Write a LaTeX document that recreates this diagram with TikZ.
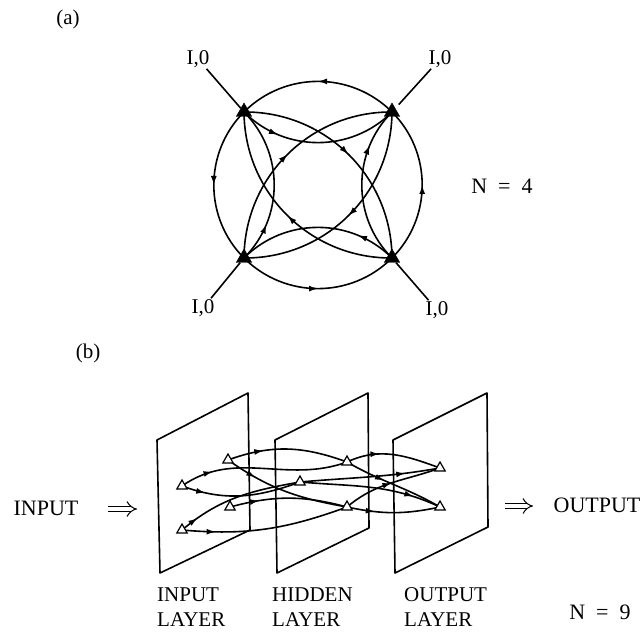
\documentclass[tikz,border=0pt]{standalone}
\usepackage{fontspec}
\setmainfont{Liberation Serif}
\usetikzlibrary{arrows.meta,decorations.markings,shapes.geometric,backgrounds}
\tikzset{
  conn/.style={line width=1.6pt},
  midarrow/.style={postaction={decorate}, decoration={markings, mark=at position #1 with {\arrow{Latex[length=9pt,width=6pt]}}}},
  solidtri/.style={regular polygon, regular polygon sides=3, fill=black, draw=black, minimum size=18pt, inner sep=0pt},
  opentri/.style={regular polygon, regular polygon sides=3, fill=white, draw=black, line width=1.2pt, minimum size=12pt, inner sep=0pt},
  lab/.style={font=\fontsize{21}{25}\selectfont, inner sep=1pt},
  big/.style={font=\fontsize{22}{26}\selectfont, inner sep=1pt},
  layerlab/.style={font=\fontsize{21}{25}\selectfont, align=left, inner sep=0pt, anchor=west},
  panel/.style={line width=1.6pt, line join=round},
  dbl/.style={line width=1pt, double distance=4.5pt, -{Implies}},
}
\begin{document}
\begin{tikzpicture}[x=1pt,y=1pt]
\useasboundingbox (0,0) rectangle (644,635);
% ---------- (a) ----------
\node[lab] (ta) at (68,616) {(a)};
\node[solidtri] (TL) at (244,523) {};
\node[solidtri] (TR) at (392,523) {};
\node[solidtri] (BL) at (244,377) {};
\node[solidtri] (BR) at (392,377) {};
\node[lab] (lTL) at (198,576) {I,0};
\node[lab] (lTR) at (440,576) {I,0};
\node[lab] (lBL) at (203,327) {I,0};
\node[lab] (lBR) at (437,325) {I,0};
\node[big] (n4) at (502,449) {N\hspace{0.5em}=\hspace{0.5em}4};
\draw[conn] (lTL) -- (TL);
\draw[conn, shorten >=5pt] (lTR) -- (TR);
\draw[conn] (lBL) -- (BL);
\draw[conn] (lBR) -- (BR);
\begin{scope}[on background layer]
  % outer circle
  \draw[conn, midarrow=0.5] (TR.center) to[bend right=45] (TL.center);
  \draw[conn, midarrow=0.5] (TL.center) to[bend right=45] (BL.center);
  \draw[conn, midarrow=0.5] (BL.center) to[bend right=45] (BR.center);
  \draw[conn, midarrow=0.5] (BR.center) to[bend right=45] (TR.center);
  % inner adjacent arcs
  \draw[conn, midarrow=0.25] (TL.center) to[bend right=45] (TR.center);
  \draw[conn, midarrow=0.75] (BR.center) to[bend left=45] (TR.center);
  \draw[conn, midarrow=0.25] (BR.center) to[bend right=45] (BL.center);
  \draw[conn, midarrow=0.25] (BL.center) to[bend right=45] (TL.center);
  % diagonals
  \draw[conn, midarrow=0.5] (TL.center) to[bend left=45] (BR.center);
  \draw[conn, midarrow=0.5] (BR.center) to[bend left=45] (TL.center);
  \draw[conn, midarrow=0.5] (BL.center) to[bend left=45] (TR.center);
  \draw[conn, midarrow=0.5] (TR.center) to[bend left=45] (BL.center);
\end{scope}
% ---------- (b) ----------
\node[lab] (tb) at (88,282) {(b)};
\draw[panel] (157,195) -- (248,242) -- (250,105) -- (160,62) -- cycle;
\draw[panel] (275,195) -- (368,242) -- (369,107) -- (277,62) -- cycle;
\draw[panel] (393,195) -- (487,242) -- (488,108) -- (395,62) -- cycle;
\node[opentri] (A1) at (182,149) {};
\node[opentri] (A2) at (228,175) {};
\node[opentri] (A3) at (230,128) {};
\node[opentri] (A4) at (182,105) {};
\node[opentri] (H1) at (347,173) {};
\node[opentri] (H2) at (300,153) {};
\node[opentri] (H3) at (347,128) {};
\node[opentri] (O1) at (440,167) {};
\node[opentri] (O2) at (440,128) {};
\begin{scope}[on background layer]
  \draw[conn, midarrow=0.3] (A2.center) to[out=20, in=160] (H1.center);
  \draw[conn, midarrow=0.35] (H1.center) to[out=25, in=160] (O1.center);
  \draw[conn, midarrow=0.2] (A1.center) to[out=35, in=200] (H1.center);
  \draw[conn, midarrow=0.2] (A1.center) to[out=-20, in=200] (H2.center);
  \draw[conn, midarrow=0.15] (A4.center) to[out=40, in=190] (H2.center);
  \draw[conn, midarrow=0.2] (A4.center) to[out=-5, in=200] (H3.center);
  \draw[conn, midarrow=0.25] (A2.center) to[out=-35, in=170] (H3.center);
  \draw[conn, midarrow=0.25] (A3.center) to[out=15, in=165] (H3.center);
  \draw[conn, midarrow=0.4] (H1.center) to[out=-30, in=150] (O2.center);
  \draw[conn, midarrow=0.75] (H2.center) to[out=5, in=190] (O1.center);
  \draw[conn, midarrow=0.8] (H2.center) to[out=-5, in=155] (O2.center);
  \draw[conn, midarrow=0.5] (H3.center) to[out=40, in=200] (O1.center);
  \draw[conn, midarrow=0.3] (H3.center) to[bend right=12] (O2.center);
\end{scope}
\node[big] (inp) at (46,127) {INPUT};
\node[big] (outp) at (597,130) {OUTPUT};
\coordinate (iA) at (108,126);
\coordinate (iB) at (137,126);
\coordinate (oA) at (505,129);
\coordinate (oB) at (533,129);
\draw[dbl] (iA) -- (iB);
\draw[dbl] (oA) -- (oB);
\node[layerlab] (L1) at (157,27.5) {INPUT\\LAYER};
\node[layerlab] (L2) at (272,27.5) {HIDDEN\\LAYER};
\node[layerlab] (L3) at (404,27.5) {OUTPUT\\LAYER};
\node[big] (n9) at (600,23) {N\hspace{0.5em}=\hspace{0.5em}9};
\end{tikzpicture}
\end{document}
